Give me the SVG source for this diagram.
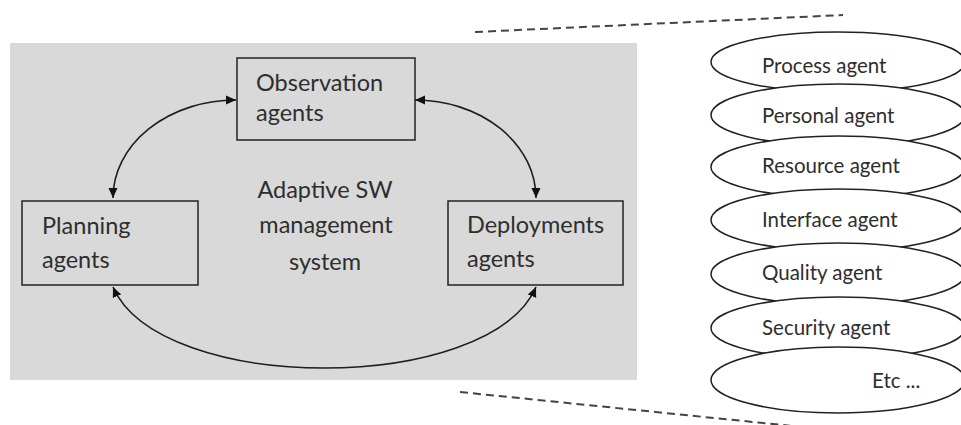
<svg xmlns="http://www.w3.org/2000/svg" width="961" height="425" viewBox="0 0 961 425">
  <style>
    .panel { fill: #d9d9d9; }
    .box { fill: none; stroke: #222; stroke-width: 1.5; }
    .oval { fill: #ffffff; stroke: #222; stroke-width: 1.5; }
    .lbl { font-family: Lato, "Liberation Sans", sans-serif; font-size: 23.5px; fill: #2e2e2e; }
    .mid { text-anchor: middle; }
    .small { font-size: 20.5px; }
    .link { fill: none; stroke: #1e1e1e; stroke-width: 1.6; marker-start: url(#tip); marker-end: url(#tip); }
    .zoom { fill: none; stroke: #444; stroke-width: 2; stroke-dasharray: 8 5; }
  </style>
  <defs>
    <marker id="tip" viewBox="0 0 10 10" refX="10" refY="5" markerWidth="10" markerHeight="10" markerUnits="userSpaceOnUse" orient="auto-start-reverse">
      <path d="M0,0.5 L10,5 L0,9.5 Z" fill="#111"/>
    </marker>
  </defs>

  <rect class="panel" x="10" y="43" width="627" height="337"/>

  <!-- zoom guide lines -->
  <g id="guides">
    <line class="zoom" x1="475" y1="32" x2="843" y2="15"/>
    <line class="zoom" x1="460" y1="392" x2="812" y2="428"/>
  </g>

  <!-- connectors -->
  <g id="connectors">
    <path class="link" d="M113,198 A123,98 0 0 1 236,100"/>
    <path class="link" d="M415,100 A121,98 0 0 1 536,198"/>
    <path class="link" d="M113,287 C160,395 489,395 536,287"/>
  </g>

  <g id="observation">
    <rect class="box" x="237" y="58" width="178" height="82"/>
    <text class="lbl" x="256" y="91">Observation</text>
    <text class="lbl" x="256" y="121">agents</text>
  </g>

  <g id="planning">
    <rect class="box" x="22" y="201" width="176" height="84"/>
    <text class="lbl" x="42" y="234">Planning</text>
    <text class="lbl" x="42" y="268">agents</text>
  </g>

  <g id="deployments">
    <rect class="box" x="448" y="201" width="175" height="84"/>
    <text class="lbl" x="467" y="233">Deployments</text>
    <text class="lbl" x="467" y="267">agents</text>
  </g>

  <g id="system">
    <text class="lbl mid" x="325" y="198">Adaptive SW</text>
    <text class="lbl mid" x="326" y="233">management</text>
    <text class="lbl mid" x="325" y="270">system</text>
  </g>

  <!-- agent stack, each oval drawn over the one above it -->
  <g id="process-agent">
    <ellipse class="oval" cx="838" cy="62" rx="127" ry="30"/>
    <text class="lbl small" x="762" y="73">Process agent</text>
  </g>
  <g id="personal-agent">
    <ellipse class="oval" cx="838" cy="115" rx="127" ry="31"/>
    <text class="lbl small" x="762" y="123">Personal agent</text>
  </g>
  <g id="resource-agent">
    <ellipse class="oval" cx="838" cy="167" rx="127" ry="31"/>
    <text class="lbl small" x="762" y="173">Resource agent</text>
  </g>
  <g id="interface-agent">
    <ellipse class="oval" cx="838" cy="220" rx="127" ry="31"/>
    <text class="lbl small" x="762" y="227">Interface agent</text>
  </g>
  <g id="quality-agent">
    <ellipse class="oval" cx="838" cy="274" rx="127" ry="31"/>
    <text class="lbl small" x="762" y="280">Quality agent</text>
  </g>
  <g id="security-agent">
    <ellipse class="oval" cx="838" cy="328" rx="127" ry="31"/>
    <text class="lbl small" x="762" y="335">Security agent</text>
  </g>
  <g id="etc-agent">
    <ellipse class="oval" cx="838" cy="380" rx="127" ry="33"/>
    <text class="lbl small" x="872" y="388">Etc ...</text>
  </g>
</svg>
